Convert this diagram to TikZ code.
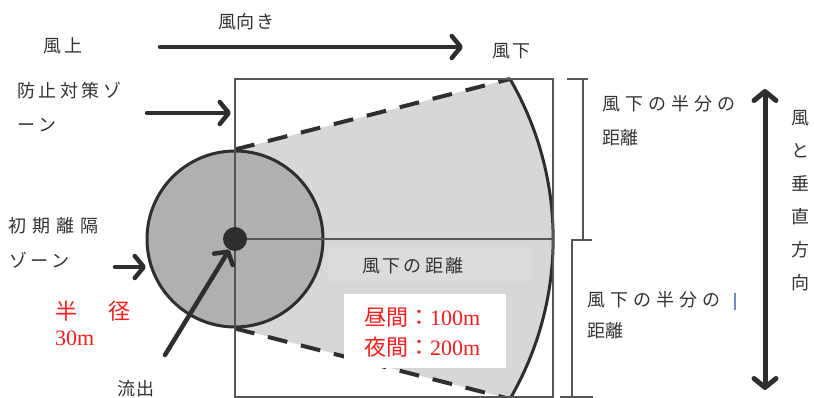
\documentclass[tikz,border=0pt]{standalone}
\usepackage{fontspec}
\setmainfont{Liberation Serif}
\newfontfamily\cjk{Noto Sans CJK JP}
\usetikzlibrary{arrows.meta}
\definecolor{txt}{HTML}{333333}
\definecolor{wedge}{HTML}{D7D7D7}
\definecolor{lblbg}{HTML}{DCDCDC}
\definecolor{disk}{HTML}{B0B0B0}
\definecolor{ln}{HTML}{2E2E2E}
\definecolor{thinln}{HTML}{555555}
\definecolor{redt}{HTML}{FF1A1A}
\definecolor{cursor}{HTML}{6A8CC8}
\makeatletter
\newcommand\trk[2]{\def\trk@sep{}\@tfor\trk@c:=#2\do{\trk@sep\trk@c\def\trk@sep{\hspace{#1}}}}
\makeatother
\begin{document}
\begin{tikzpicture}[x=1pt,y=-1pt,
  lab/.style={font=\cjk\fontsize{18}{18}\selectfont, text=txt, inner sep=0pt},
  redlab/.style={font=\fontsize{22}{22}\selectfont, text=redt, inner sep=0pt},
  thinline/.style={draw=thinln, line width=1.2pt},
  bigarrow/.style={draw=ln, line width=4.5pt, line cap=round,
    -{Straight Barb[length=9pt, width=22pt, round]}},
  dblarrow/.style={draw=ln, line width=5pt, line cap=round,
    {Straight Barb[length=9pt, width=22pt, round]}-{Straight Barb[length=9pt, width=22pt, round]}},
  dashline/.style={draw=ln, line width=4pt, dash pattern=on 20pt off 14pt}]
\useasboundingbox (0,0) rectangle (814,398);
\clip (0,0) rectangle (814,398);

% wedge (protective action zone)
\fill[wedge] (235,150) -- (510,79) arc[start angle=30.2, end angle=-30.2, radius=318pt] -- (235,328) -- cycle;
\fill[lblbg] (328,247) rectangle (532,281);

% initial isolation zone disk
\node[circle, fill=disk, draw=ln, line width=3pt, minimum size=176pt, inner sep=0pt] (zone) at (235,239) {};

% dashed edges and outer arc
\coordinate (wtop) at (510,79);
\coordinate (wbot) at (510,399);
\draw[dashline] (zone.north) -- (wtop);
\draw[dashline] (zone.south) -- (wbot);
\draw[draw=ln, line width=3pt] (wtop) arc[start angle=30.2, end angle=-30.2, radius=318pt];

% thin frame and axis
\coordinate (rtl) at (235,79);
\coordinate (rbr) at (553,397);
\draw[thinline] (rtl) rectangle (rbr);
\coordinate (axisend) at (553,239);
\draw[thinline] (zone.center) -- (axisend);

% source dot
\node[circle, fill=ln, minimum size=24pt, inner sep=0pt] (src) at (235,239) {};

% dimension lines at right
\coordinate (d1t) at (583,79);
\coordinate (d1b) at (583,240);
\draw[thinline] (d1t) -- (d1b);
\draw[thinline] (567,79) -- (588,79);
\draw[thinline] (571,240) -- (592,240);
\coordinate (d2t) at (572,240);
\coordinate (d2b) at (572,397);
\draw[thinline] (d2t) -- (d2b);
\draw[thinline] (560,397) -- (593,397);

% white box with red text
\fill[white] (344,294) rectangle (506,368);
\node[redlab, anchor=west] (day) at (364,318) {{\cjk 昼間：}100m};
\node[redlab, anchor=west] (night) at (364,347) {{\cjk 夜間：}200m};

% label in wedge
\node[lab] (dist) at (413,266) {\trk{3pt}{風下の距離}};

% top wind arrow
\coordinate (wa) at (160,47);
\coordinate (wb) at (463,47);
\draw[bigarrow] (wa) -- (wb);
\node[lab] (windup) at (63,46) {\trk{4pt}{風上}};
\node[lab] (winddir) at (246,22) {\trk{1pt}{風向き}};
\node[lab] (winddown) at (511,51) {\trk{2pt}{風下}};

% protective action zone label
\node[lab, anchor=west] (pz1) at (17,91) {\trk{3.5pt}{防止対策ゾ}};
\node[lab, anchor=west] (pz2) at (17,125) {\trk{3.5pt}{ーン}};
\coordinate (pza) at (147,113);
\coordinate (pzb) at (231,113);
\draw[bigarrow] (pza) -- (pzb);

% initial isolation zone label
\node[lab, anchor=west] (iz1) at (8,226) {\trk{6pt}{初期離隔}};
\node[lab, anchor=west] (iz2) at (9,260) {\trk{3pt}{ゾーン}};
\coordinate (iza) at (115,267);
\coordinate (izb) at (146,267);
\draw[bigarrow] (iza) -- (izb);

% radius
\node[redlab, anchor=west] (rad1) at (55,311) {{\cjk 半}\hspace{31pt}{\cjk 径}};
\node[redlab, anchor=west] (rad2) at (55,338) {30m};

% outflow
\coordinate (flow) at (165,355);
\draw[bigarrow] (flow) -- (src.242);
\node[lab] (outflow) at (136,389) {\trk{2pt}{流出}};

% half distance labels
\node[lab, anchor=west] (h1a) at (602,104) {\trk{5pt}{風下の半分の}};
\node[lab, anchor=west] (h1b) at (602,138) {距離};
\node[lab, anchor=west] (h2a) at (587,300) {\trk{5pt}{風下の半分の}};
\node[lab, anchor=west] (h2b) at (587,331) {距離};
\coordinate (cur1) at (735,293);
\coordinate (cur2) at (735,310);
\draw[cursor, line width=1.5pt] (cur1) -- (cur2);

% crosswind arrow
\coordinate (ca) at (765,89);
\coordinate (cb) at (765,390);
\draw[dblarrow] (ca) -- (cb);
\node[lab, align=center, font=\cjk\fontsize{18}{33}\selectfont] (cross) at (800,201) {風\\と\\垂\\直\\方\\向};
\end{tikzpicture}
\end{document}
